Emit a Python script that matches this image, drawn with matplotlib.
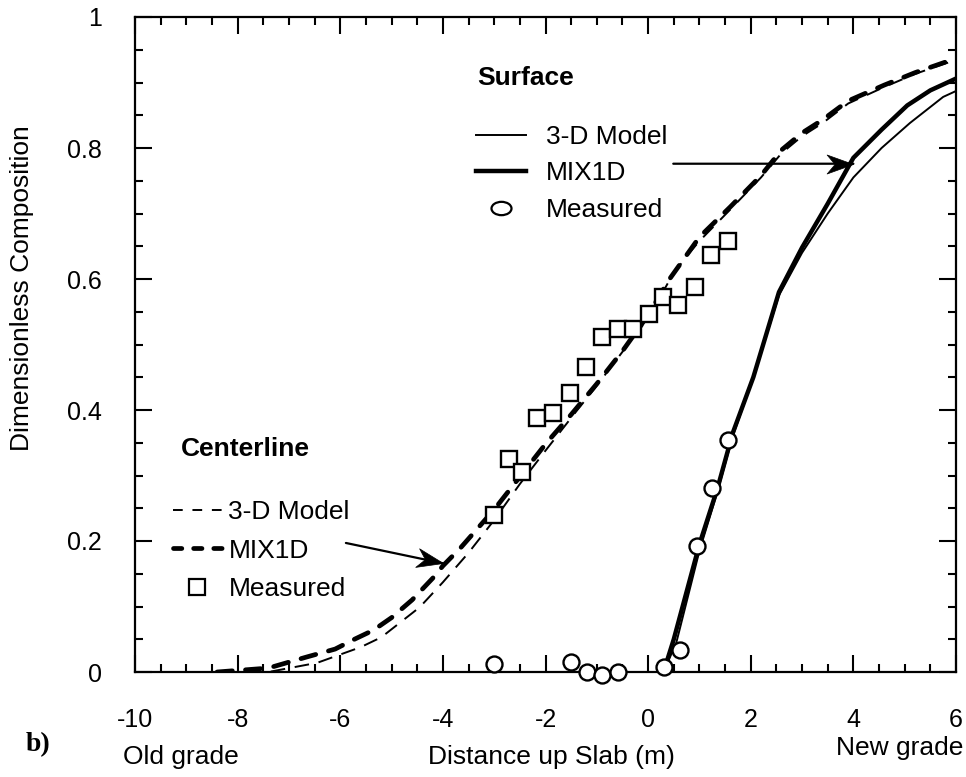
import numpy as np
import matplotlib.pyplot as plt
from matplotlib.lines import Line2D
from matplotlib.path import Path
from matplotlib.markers import MarkerStyle
from matplotlib.transforms import Affine2D
from matplotlib.ticker import MultipleLocator, FuncFormatter

plt.rcParams['font.family'] = ['Liberation Sans', 'DejaVu Sans']
plt.rcParams['lines.scale_dashes'] = False
plt.rcParams['axes.unicode_minus'] = False

# ---- data ----------------------------------------------------------
# centerline, 3-D model (thin dashed)
cl_model_x = [-8.30, -7.40, -6.45, -5.60, -5.20, -4.45, -4.00, -3.50, -3.00, -2.50,
              -2.00, -1.40, -1.05, -0.45, 0.00, 0.43, 0.72, 1.00, 1.60, 2.20,
              2.60, 3.00, 3.40, 3.90, 4.60, 5.20, 5.75, 6.00]
cl_model_y = [0.000, 0.000, 0.014, 0.038, 0.053, 0.099, 0.137, 0.182, 0.232, 0.287,
              0.338, 0.398, 0.432, 0.494, 0.540, 0.600, 0.632, 0.658, 0.706, 0.755,
              0.792, 0.818, 0.838, 0.868, 0.893, 0.913, 0.928, 0.934]
# centerline, MIX1D (thick dashed)
cl_mix_x = [-8.40, -7.40, -6.65, -6.10, -5.75, -5.35, -5.00, -4.60, -4.20, -4.00,
            -3.65, -3.00, -2.50, -2.00, -1.50, -1.00, -0.50, 0.00, 0.40, 1.00,
            1.60, 2.20, 2.60, 3.00, 3.40, 3.90, 4.60, 5.20, 5.75, 6.00]
cl_mix_y = [0.000, 0.006, 0.023, 0.035, 0.049, 0.064, 0.083, 0.110, 0.143, 0.162,
            0.190, 0.248, 0.298, 0.348, 0.393, 0.440, 0.490, 0.545, 0.598, 0.664,
            0.710, 0.758, 0.797, 0.823, 0.843, 0.872, 0.896, 0.915, 0.930, 0.937]
# centerline, measured (squares)
cl_meas_x = [-3.00, -2.72, -2.45, -2.16, -1.85, -1.52, -1.21, -0.90, -0.59, -0.29,
             0.02, 0.29, 0.58, 0.91, 1.23, 1.55]
cl_meas_y = [0.240, 0.325, 0.305, 0.388, 0.395, 0.426, 0.466, 0.511, 0.524, 0.524,
             0.547, 0.573, 0.560, 0.588, 0.637, 0.658]

# surface, 3-D model (thin solid)
sf_model_x = [0.30, 0.55, 1.00, 1.35, 1.65, 2.05, 2.55, 3.00, 3.50, 4.00, 4.55, 5.10, 5.75, 6.00]
sf_model_y = [0.000, 0.045, 0.185, 0.275, 0.360, 0.450, 0.575, 0.640, 0.700, 0.755, 0.800, 0.838, 0.878, 0.887]
# surface, MIX1D (thick solid)
sf_mix_x = [0.30, 0.50, 1.00, 1.35, 1.65, 2.05, 2.55, 3.00, 3.50, 4.00, 4.55, 5.05, 5.50, 6.00]
sf_mix_y = [0.000, 0.050, 0.195, 0.280, 0.365, 0.450, 0.580, 0.648, 0.715, 0.785, 0.828, 0.865, 0.888, 0.906]
# surface, measured (circles)
sf_meas_x = [-3.00, -1.50, -1.19, -0.90, -0.59, 0.31, 0.62, 0.95, 1.25, 1.56]
sf_meas_y = [0.012, 0.015, 0.000, -0.004, 0.000, 0.008, 0.034, 0.192, 0.281, 0.354]

legend_labels = ['3-D Model', 'MIX1D', 'Measured']
x_ticks = [-10, -8, -6, -4, -2, 0, 2, 4, 6]
y_ticks = [0, 0.2, 0.4, 0.6, 0.8, 1]

# arrows: (tail, head) in data units
surf_arrow = ((0.49, 0.776), (4.0, 0.776))
cent_arrow = ((-5.89, 0.197), (-4.0, 0.166))

# ---- figure ----------------------------------------------------------
W, H = 966, 777
FS = 19
fig = plt.figure(figsize=(W / 100, H / 100), dpi=100)
ax = fig.add_axes([135 / W, 1 - 672 / H, 821 / W, 655 / H])
ax.set_xlim(-10, 6)
ax.set_ylim(0, 1)

ax.plot(cl_model_x, cl_model_y, color='k', lw=1.4, dashes=(10.5, 7))
ax.plot(cl_mix_x, cl_mix_y, color='k', lw=3.4, dashes=(11, 9.5), dash_capstyle='round')
ax.plot(sf_model_x, sf_model_y, color='k', lw=1.4)
ax.plot(sf_mix_x, sf_mix_y, color='k', lw=3.2)
ax.plot(cl_meas_x, cl_meas_y, ls='none', marker='s', ms=11.5, mfc='white',
        mec='k', mew=1.7, clip_on=False, zorder=4)
ax.plot(sf_meas_x, sf_meas_y, ls='none', marker='o', ms=11.5, mfc='white',
        mec='k', mew=1.7, clip_on=False, zorder=4)

# arrows with a swept-back head
head = Path([(0, 0), (-1, 0.36), (-0.7, 0), (-1, -0.36), (0, 0)],
            [Path.MOVETO, Path.LINETO, Path.LINETO, Path.LINETO, Path.CLOSEPOLY])
for tail, tip in (surf_arrow, cent_arrow):
    ax.annotate('', xy=tip, xytext=tail,
                arrowprops=dict(arrowstyle='-', lw=1.6, color='k',
                                shrinkA=0, shrinkB=0))
    p0 = ax.transData.transform(tail)
    p1 = ax.transData.transform(tip)
    ang = np.degrees(np.arctan2(p1[1] - p0[1], p1[0] - p0[0]))
    ms = MarkerStyle(head, transform=Affine2D().rotate_deg(ang))
    ax.plot([tip[0]], [tip[1]], ls='none', marker=ms, ms=38, mfc='k', mec='k',
            mew=0.5, zorder=5)

# ---- axes styling ----------------------------------------------------
ax.set_xticks(x_ticks)
ax.set_yticks(y_ticks)
ax.xaxis.set_minor_locator(MultipleLocator(0.5))
ax.yaxis.set_minor_locator(MultipleLocator(0.05))
ax.yaxis.set_major_formatter(FuncFormatter(lambda v, p: f"{v:g}"))
ax.tick_params(which='both', direction='in', top=True, right=True, width=1.5,
               labelsize=18)
ax.tick_params(which='major', length=12)
ax.tick_params(which='minor', length=6)
ax.tick_params(axis='x', pad=26)
ax.tick_params(axis='y', pad=24)
for s in ax.spines.values():
    s.set_linewidth(1.6)

# ---- legends ---------------------------------------------------------
ellipse = Path.unit_circle().transformed(Affine2D().scale(1.5, 1.0))
surf_handles = [Line2D([], [], color='k', lw=1.4),
                Line2D([], [], color='k', lw=3.2),
                Line2D([], [], ls='none', marker=ellipse, ms=14.4, mfc='white',
                       mec='k', mew=1.6)]
leg1 = ax.legend(surf_handles, legend_labels, loc='upper left',
                 bbox_to_anchor=(476 / W, 1 - 125 / H), bbox_transform=fig.transFigure,
                 frameon=False, borderpad=0, borderaxespad=0, handlelength=1.9,
                 handletextpad=0.75, labelspacing=0.47, fontsize=FS)
ax.add_artist(leg1)

cent_handles = [Line2D([], [], color='k', lw=1.4, dashes=(7, 7)),
                Line2D([], [], color='k', lw=3.4, dashes=(6, 8.5), dash_capstyle='round'),
                Line2D([], [], ls='none', marker='s', ms=11, mfc='white',
                       mec='k', mew=1.6)]
leg2 = ax.legend(cent_handles, legend_labels, loc='upper left',
                 bbox_to_anchor=(173 / W, 1 - 500 / H), bbox_transform=fig.transFigure,
                 frameon=False, borderpad=0, borderaxespad=0, handlelength=1.85,
                 handletextpad=0.25, labelspacing=0.55, fontsize=FS)

fig.text(477 / W, 1 - 78 / H, 'Surface', fontsize=FS, fontweight='bold',
         ha='left', va='center')
fig.text(181 / W, 1 - 449 / H, 'Centerline', fontsize=FS, fontweight='bold',
         ha='left', va='center')

# ---- outer labels ----------------------------------------------------
fig.text(22 / W, 1 - 288 / H, 'Dimensionless Composition', rotation=90,
         fontsize=FS, ha='center', va='center')
fig.text(551 / W, 1 - 757 / H, 'Distance up Slab (m)', fontsize=FS,
         ha='center', va='center')
fig.text(181 / W, 1 - 757 / H, 'Old grade', fontsize=FS, ha='center', va='center')
fig.text(963 / W, 1 - 748 / H, 'New grade', fontsize=FS, ha='right', va='center')
fig.text(38 / W, 1 - 745 / H, 'b)', fontsize=20, fontweight='bold',
         family='Liberation Serif', ha='center', va='center')

fig.savefig('out.png', dpi=100)
